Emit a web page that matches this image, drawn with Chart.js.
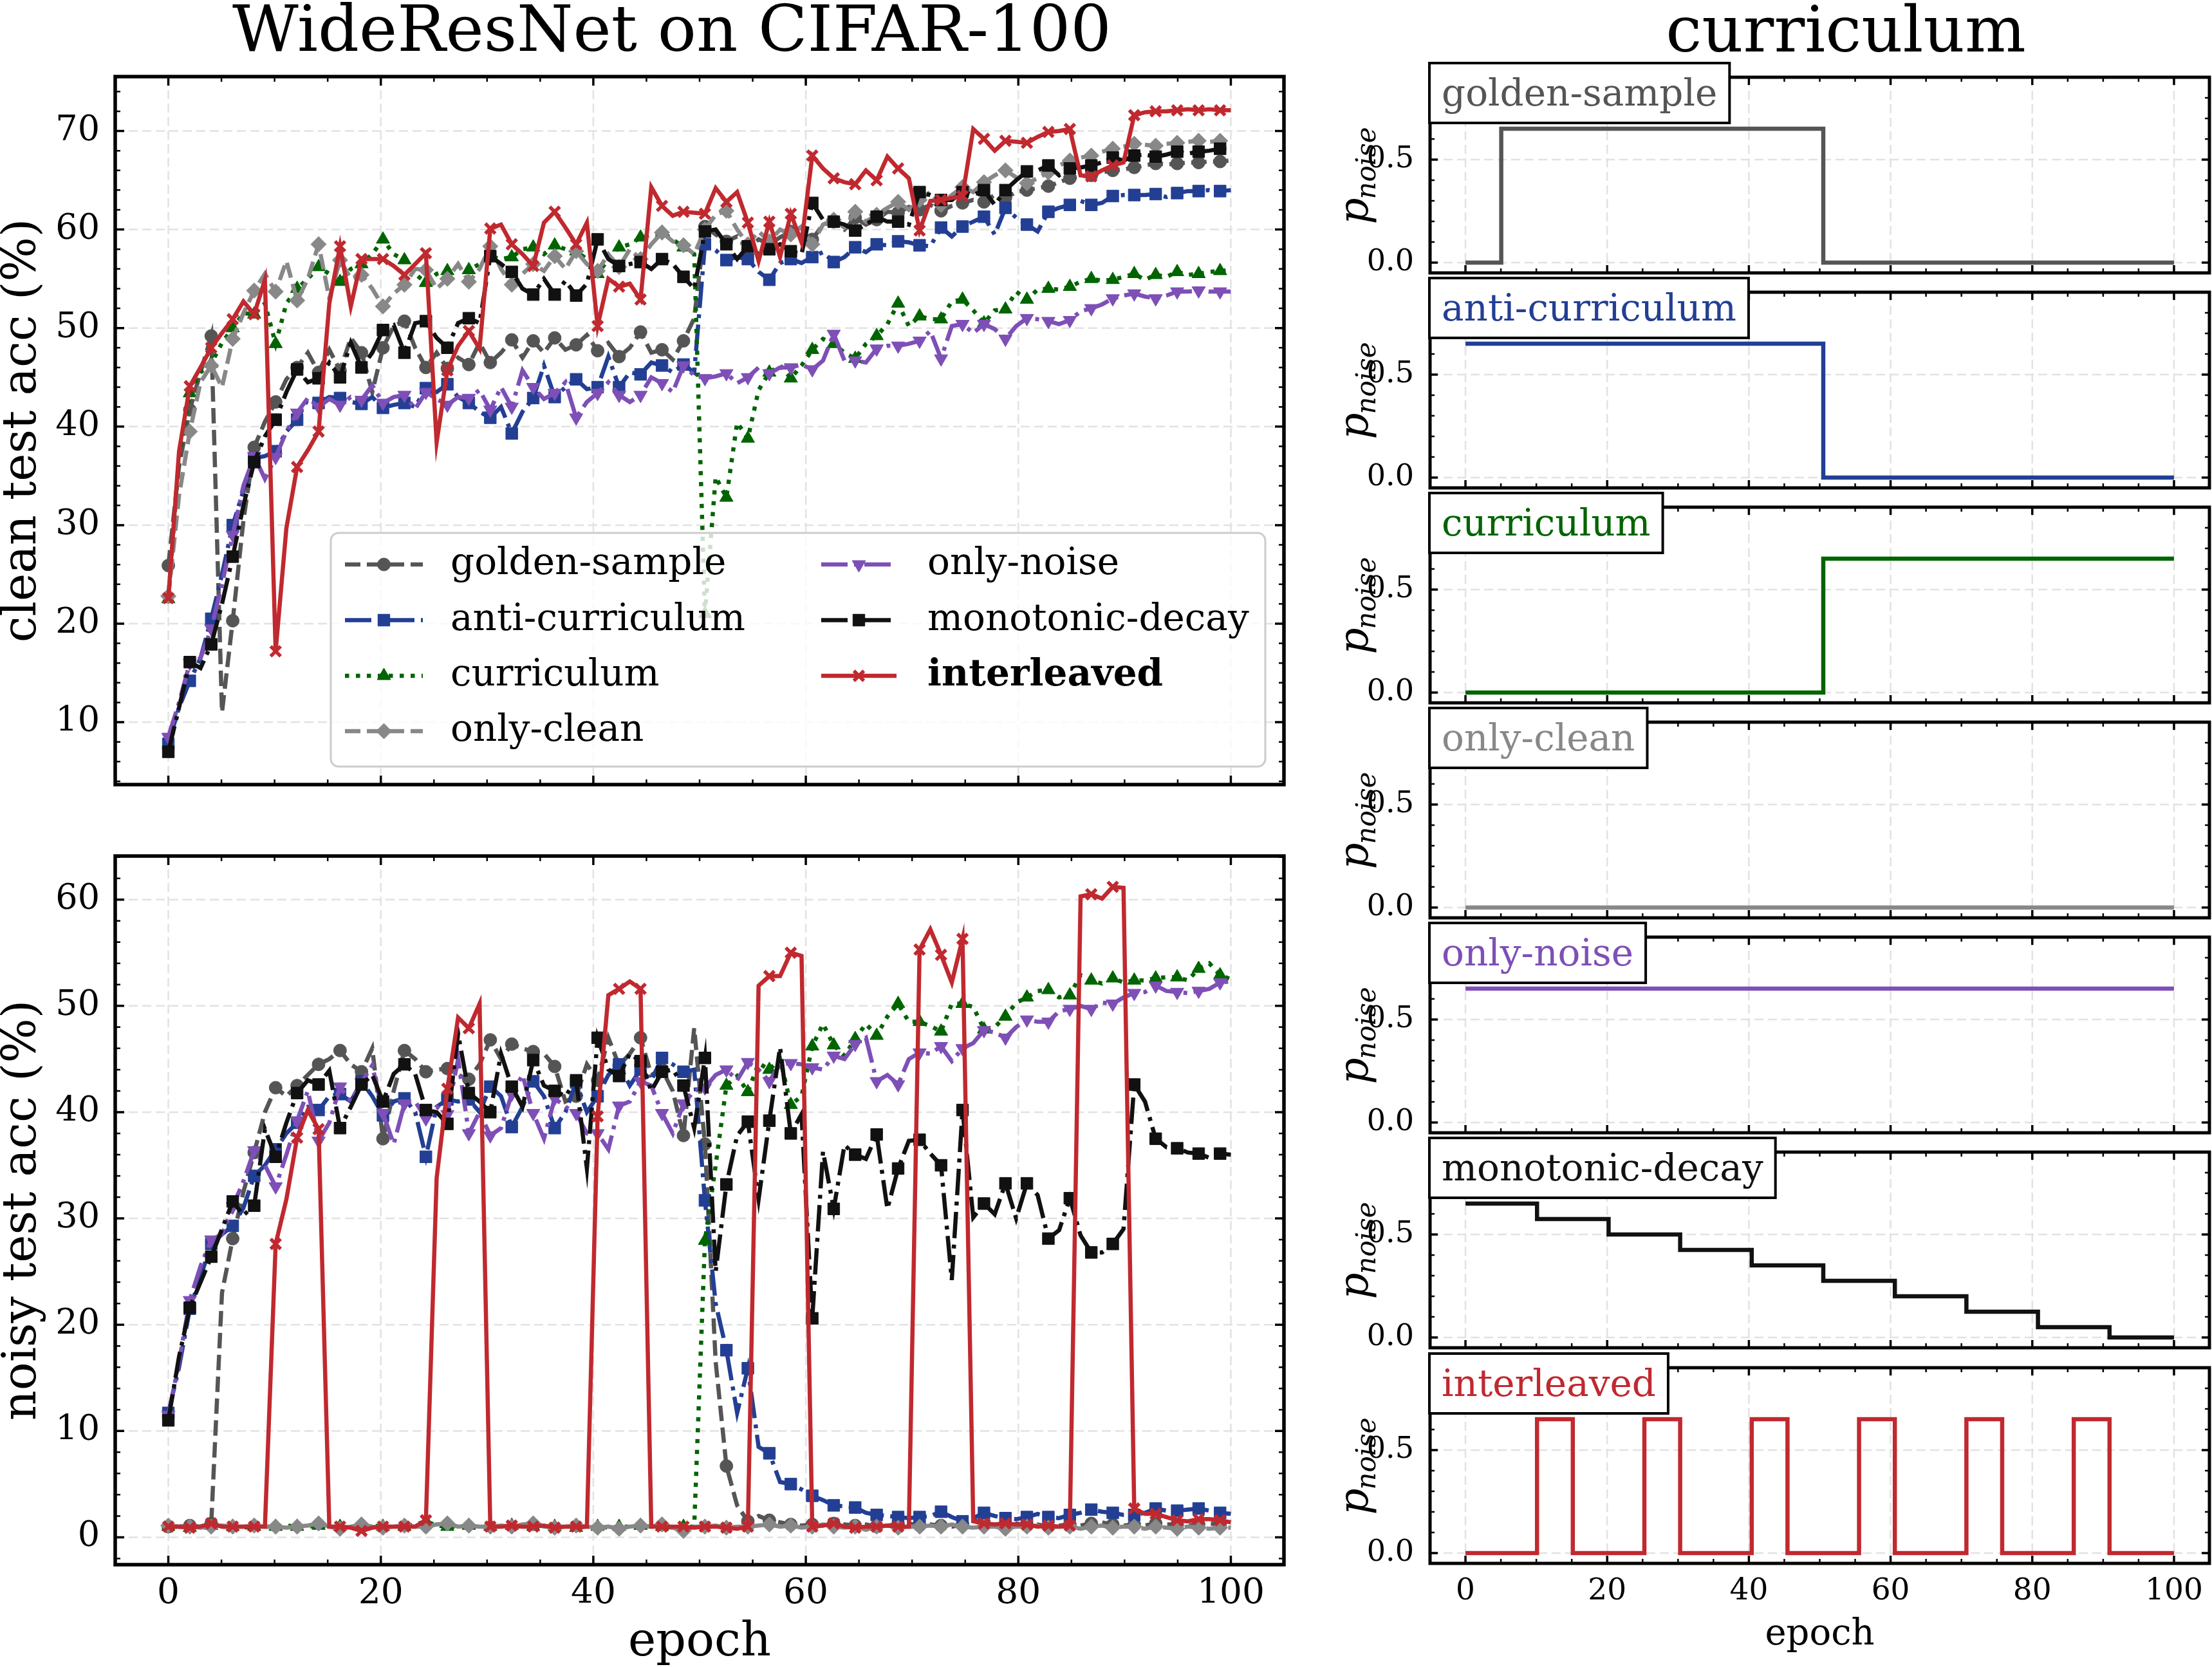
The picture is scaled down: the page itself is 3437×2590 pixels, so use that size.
<!DOCTYPE html>
<html>
<head>
<meta charset="utf-8">
<script src="https://cdn.jsdelivr.net/npm/chart.js@4.4.1/dist/chart.umd.min.js"></script>
<style>
html, body { margin:0; padding:0; background:#ffffff; }
body { width:3437px; height:2590px; position:relative; overflow:hidden; }
canvas { position:absolute; }
.ttl { position:absolute; font-family:'DejaVu Serif', serif; font-size:100px; line-height:100px; color:#000; text-align:center; white-space:nowrap; }
</style>
</head>
<body>
<div class="ttl" style="left:0px;width:2088px;top:-5px;">WideResNet on CIFAR-100</div>
<div class="ttl" style="left:2436px;width:864px;top:-4px;">curriculum</div>
<script>
// ================= DATA =================
// 100 training epochs, plotted on linspace(0, 100, 100)
const epochs = Array.from({length: 100}, (_, i) => i * 100 / 99);

const seriesNames = ['golden-sample', 'anti-curriculum', 'curriculum', 'only-clean', 'only-noise', 'monotonic-decay', 'interleaved'];

// clean test accuracy (%)
const cleanGolden = [25.9,36.0,41.7,45.5,49.2,11.0,20.3,30.5,37.9,40.5,
 42.5,44.8,46.0,47.5,45.5,47.8,45.7,49.0,47.5,43.5,
 48.0,50.2,50.7,48.0,46.0,47.5,45.9,47.0,46.3,48.5,
 46.5,47.5,48.8,47.0,48.7,47.5,49.0,47.8,48.3,49.3,
 47.7,48.5,47.1,48.0,49.6,47.5,47.8,46.8,48.7,51.0,
 60.3,59.5,58.8,59.3,58.0,59.0,58.5,59.2,59.8,60.2,
 59.0,60.5,60.8,60.0,61.2,60.5,61.0,61.8,61.7,62.3,
 62.0,62.5,61.9,62.4,62.7,63.0,62.8,63.5,63.2,63.8,
 64.0,64.2,64.4,64.8,65.2,65.4,65.5,65.8,66.0,66.1,
 66.3,66.5,66.7,66.6,66.7,66.8,66.8,66.9,66.9,67.0];
const cleanAnti = [7.8,11.5,14.2,16.5,20.5,25.0,30.0,33.5,36.8,37.0,
 37.5,39.5,40.7,42.8,42.4,43.0,42.9,42.5,42.3,43.0,
 41.9,42.2,42.4,42.0,43.9,43.5,44.3,43.0,42.4,41.5,
 40.9,42.0,39.3,41.5,42.9,46.2,43.0,44.0,44.8,43.8,
 44.0,47.1,44.0,45.5,45.3,46.5,46.2,45.5,46.3,45.5,
 58.5,57.9,56.9,57.2,57.0,55.7,54.9,56.6,57.0,56.6,
 57.2,57.7,56.7,57.2,58.2,57.7,58.5,58.4,58.8,58.7,
 58.4,58.3,60.2,59.3,60.3,60.8,61.3,59.5,62.2,61.2,
 60.5,59.8,61.8,62.2,62.5,62.9,62.5,62.7,63.4,63.5,
 63.5,63.5,63.6,63.3,63.7,63.9,63.9,64.0,63.9,64.0];
const cleanCurr = [22.5,37.0,43.4,45.5,46.4,48.5,50.0,51.5,51.4,52.5,
 48.4,52.5,54.0,55.0,56.2,55.5,54.7,56.0,56.5,57.5,
 59.0,57.5,56.9,55.5,54.6,55.5,55.8,56.3,55.9,56.5,
 57.3,57.0,57.2,58.0,58.2,57.5,58.4,58.0,57.8,57.0,
 55.5,57.0,58.2,58.5,59.2,59.5,59.7,59.0,58.2,57.5,
 21.0,34.9,32.8,40.4,38.8,43.7,45.5,46.2,44.9,46.2,
 47.8,48.9,48.4,47.5,46.9,48.4,49.2,50.4,52.5,50.2,
 51.2,50.9,50.9,52.7,52.9,51.8,50.5,51.8,51.9,53.7,
 52.9,53.9,54.0,53.9,54.2,54.7,55.0,54.8,54.9,55.2,
 55.5,54.9,55.4,55.2,55.7,55.4,55.5,55.7,55.8,55.9];
const cleanOnlyClean = [22.8,33.0,39.5,44.5,46.2,44.0,48.9,51.5,53.8,55.5,
 53.7,56.8,52.8,55.0,58.5,53.0,56.9,55.0,55.4,54.0,
 52.2,53.5,54.4,56.0,55.9,54.0,55.0,56.5,54.7,56.0,
 58.3,56.0,54.4,55.5,56.5,55.8,57.3,56.0,57.8,56.5,
 55.8,57.5,56.2,58.0,57.0,58.5,59.7,58.8,58.4,57.5,
 60.0,61.5,61.9,60.0,58.5,59.8,58.8,60.0,59.5,60.3,
 58.5,60.5,61.0,60.2,61.8,60.8,61.5,62.2,62.8,62.0,
 63.0,63.8,62.5,63.5,64.3,63.8,64.8,65.5,66.0,65.3,
 64.7,65.2,65.8,66.5,67.0,67.3,67.5,67.9,68.2,68.4,
 68.7,68.6,68.5,68.7,68.8,68.9,69.0,68.9,69.0,68.8];
const cleanOnlyNoise = [8.5,12.0,16.0,16.5,19.5,24.0,29.0,34.0,37.0,34.7,
 36.9,39.5,41.4,42.9,42.0,42.8,42.2,43.0,42.7,44.2,
 42.4,43.0,43.2,41.8,43.5,42.8,42.2,43.0,42.9,43.7,
 41.7,44.0,42.0,45.7,44.0,42.8,43.4,44.5,40.9,42.5,
 43.4,44.5,43.2,42.5,43.2,45.0,44.4,43.5,46.2,45.2,
 44.9,45.1,45.4,44.4,45.0,46.0,45.4,46.0,46.0,46.3,
 45.8,46.7,49.4,46.7,46.7,46.5,47.9,48.2,48.2,48.4,
 48.7,49.7,46.9,50.2,50.4,49.5,50.4,49.9,48.9,50.2,
 51.0,50.9,50.7,50.4,50.8,51.7,52.0,52.4,53.0,53.3,
 53.5,53.2,53.0,53.3,53.7,53.7,53.8,53.7,53.7,53.7];
const cleanMono = [7.0,11.5,16.1,15.5,17.9,22.0,26.8,32.0,36.4,39.0,
 40.7,43.5,45.8,44.5,44.9,46.5,45.0,48.5,46.0,47.5,
 49.8,50.3,47.5,50.5,50.7,49.0,48.0,50.5,51.0,50.5,
 57.3,56.5,55.7,54.0,53.4,55.0,53.4,54.8,53.3,54.5,
 59.0,57.0,56.3,56.5,56.7,56.0,57.0,56.5,55.2,54.0,
 59.8,60.0,58.5,57.0,58.3,57.5,58.0,58.5,57.8,57.5,
 62.7,61.0,60.8,60.5,59.9,60.5,61.3,60.8,60.8,60.5,
 63.8,63.5,63.0,63.0,63.8,63.5,64.0,62.5,64.0,65.0,
 65.9,66.0,66.5,65.5,66.2,66.3,66.5,66.8,67.3,67.0,
 67.5,67.6,67.4,67.6,67.9,67.7,67.9,68.0,68.2,68.1];
const cleanInter = [22.6,37.5,44.1,46.0,48.0,49.5,50.9,52.7,51.4,54.9,
 17.2,29.7,35.9,37.6,39.5,52.5,58.3,52.2,57.0,57.0,
 57.0,56.3,55.4,56.5,57.6,38.4,45.7,48.2,49.7,47.9,
 60.1,60.5,58.5,57.5,56.3,60.7,61.8,60.2,58.5,60.7,
 50.2,55.0,54.2,54.5,52.9,64.3,62.4,61.4,61.8,61.7,
 61.6,64.2,62.8,63.8,60.7,56.8,60.8,57.2,61.6,58.7,
 67.5,66.2,65.2,64.8,64.6,66.0,65.0,67.4,66.2,65.2,
 59.9,62.9,63.0,63.2,63.4,70.2,69.2,68.0,69.0,68.9,
 68.8,69.4,69.9,70.0,70.2,65.5,65.4,66.0,66.5,66.8,
 71.6,71.9,72.0,72.0,72.1,72.2,72.1,72.2,72.1,72.1];

// noisy test accuracy (%)
const noisyGolden = [1.0,1.0,1.1,1.0,1.3,23.0,28.1,32.5,36.2,40.0,
 42.3,41.5,42.5,43.5,44.5,45.0,45.8,44.5,43.8,46.0,
 37.5,42.0,45.8,45.0,43.8,44.0,44.1,43.5,43.1,44.5,
 46.8,45.0,46.4,46.0,45.7,45.5,44.3,41.0,41.5,44.5,
 43.0,47.0,44.4,45.5,47.0,43.5,44.0,42.0,37.8,47.9,
 37.0,16.5,6.7,3.0,1.5,2.0,1.6,1.4,1.2,1.1,
 1.2,1.1,1.3,1.2,1.1,1.2,1.0,1.1,1.2,1.3,
 1.1,1.2,1.1,1.0,1.2,1.6,1.4,1.1,1.2,1.3,
 1.1,1.2,1.0,1.1,1.2,1.1,1.3,1.4,1.2,1.1,
 1.2,1.1,1.3,1.2,1.2,1.1,1.2,1.3,1.2,1.2];
const noisyAnti = [11.7,16.0,21.5,24.5,27.6,28.5,29.3,31.0,34.0,35.0,
 36.5,38.0,39.0,40.5,40.2,41.5,41.7,41.0,42.9,41.5,
 39.7,41.0,41.3,40.0,35.8,40.5,41.2,41.0,41.2,40.0,
 42.4,41.5,38.6,40.5,42.9,41.5,38.5,40.0,42.8,40.0,
 41.5,43.5,44.5,42.5,44.0,43.0,45.1,44.5,43.8,44.0,
 31.7,22.0,17.6,11.7,15.9,8.5,7.9,5.2,5.0,4.5,
 3.9,3.5,3.0,2.9,2.8,2.3,2.1,2.0,1.9,1.8,
 1.9,2.0,2.4,1.9,1.5,1.8,2.3,2.0,1.8,1.7,
 1.9,2.2,1.9,1.8,2.1,2.3,2.6,2.4,2.3,2.1,
 2.1,2.3,2.7,2.5,2.5,2.6,2.7,2.5,2.3,2.2];
const noisyCurr = [1.0,1.0,0.9,1.0,1.1,1.0,1.0,0.9,1.0,1.0,
 1.0,1.1,1.0,1.0,1.1,1.0,1.0,0.9,1.0,1.1,
 1.0,1.0,1.0,1.2,1.5,1.1,1.0,1.0,1.1,1.0,
 1.0,1.0,1.1,1.0,1.0,1.2,1.0,1.0,0.9,1.0,
 1.0,0.9,1.0,1.0,1.1,1.0,1.0,0.9,1.0,1.0,
 27.9,35.0,42.5,43.4,41.9,44.6,44.0,45.0,40.7,41.5,
 46.2,48.3,46.3,45.3,46.9,48.3,47.2,49.0,50.2,48.5,
 48.5,48.1,47.6,50.2,50.2,49.9,47.8,48.0,49.0,50.3,
 50.8,51.4,51.5,50.8,51.0,52.9,52.4,52.1,52.6,52.2,
 52.4,52.4,52.6,52.7,52.7,52.4,53.5,54.0,52.9,52.5];
const noisyOnlyClean = [1.1,1.0,1.0,0.9,1.0,1.1,1.0,1.0,1.1,1.0,
 1.0,0.9,1.0,1.1,1.3,1.0,0.8,1.0,1.2,1.0,
 0.9,1.0,1.1,1.0,1.0,1.2,1.3,1.0,1.1,1.0,
 1.0,1.1,1.0,1.2,1.3,1.0,0.9,1.0,1.1,1.0,
 0.9,1.0,0.8,1.0,1.1,1.0,1.2,0.9,0.6,1.0,
 1.0,1.1,0.9,1.0,1.0,1.1,1.2,1.0,1.1,0.9,
 1.0,1.2,1.0,0.9,1.0,0.7,1.0,1.1,0.9,1.0,
 1.0,1.1,1.0,1.2,1.0,0.9,1.0,1.0,0.8,1.0,
 1.0,1.1,0.9,1.0,1.0,0.8,1.0,1.1,0.9,1.0,
 1.0,0.8,1.0,0.9,0.8,1.0,0.9,0.8,0.9,0.9];
const noisyOnlyNoise = [11.5,16.5,22.3,25.5,28.0,28.5,31.1,33.5,36.4,35.0,
 33.0,36.0,39.2,42.0,37.3,39.0,42.4,41.0,42.8,44.4,
 39.9,37.0,40.8,41.0,39.4,40.5,39.8,45.0,38.0,40.0,
 37.8,38.5,41.7,43.5,39.9,37.5,41.3,40.5,39.9,38.0,
 38.0,36.5,40.6,41.0,42.9,42.5,39.9,38.0,40.8,42.0,
 42.3,43.5,44.0,43.0,44.7,44.0,42.9,44.5,44.6,44.5,
 44.2,44.0,45.3,45.0,46.4,47.0,42.9,43.5,42.6,45.0,
 45.6,45.5,46.2,44.8,46.0,46.5,47.7,47.5,47.0,48.0,
 48.7,48.5,48.5,49.5,49.7,50.0,49.7,50.3,50.2,50.8,
 51.2,51.3,51.9,51.4,51.3,51.2,51.4,51.6,52.2,52.3];
const noisyMono = [11.0,17.0,21.6,24.0,26.4,29.0,31.6,30.3,31.2,38.4,
 35.8,39.0,41.8,43.0,42.6,43.9,38.5,40.5,42.6,43.5,
 41.0,43.6,44.5,43.6,40.2,40.0,38.9,47.4,41.8,41.0,
 40.0,45.5,42.4,40.5,44.9,42.5,42.0,41.5,43.0,34.7,
 47.0,44.0,43.4,45.5,44.8,42.0,43.8,44.0,42.5,38.5,
 45.1,25.0,33.2,37.8,39.1,31.8,39.2,46.1,38.0,39.8,
 20.6,36.3,30.9,36.9,36.0,35.6,37.9,30.9,34.7,37.3,
 37.4,36.1,35.0,24.2,40.2,30.1,31.4,30.4,33.3,30.0,
 33.3,32.2,28.1,28.9,31.9,28.4,26.8,26.8,27.6,29.0,
 42.6,41.0,37.5,36.7,36.6,36.2,36.1,35.7,36.1,36.0];
const noisyInter = [1.0,1.0,0.9,1.0,1.3,1.0,1.0,1.0,1.0,1.0,
 27.6,31.8,37.6,40.2,38.4,1.0,1.0,0.9,0.6,0.9,
 1.0,1.0,1.0,1.0,1.6,33.8,42.2,48.9,47.9,50.2,
 1.0,1.0,1.1,1.0,1.0,1.1,0.9,1.0,1.0,1.0,
 39.6,51.0,51.6,52.3,51.6,1.0,1.0,1.0,1.0,0.9,
 1.0,1.0,0.9,0.8,1.0,51.9,52.8,52.8,55.0,54.7,
 1.0,1.1,1.3,1.0,0.9,1.0,1.0,1.1,1.0,1.0,
 55.3,57.2,54.8,52.2,56.3,1.5,1.3,1.2,1.3,1.2,
 1.2,1.0,1.1,1.0,1.1,60.3,60.5,60.1,61.2,61.1,
 2.7,2.2,2.2,1.9,1.6,1.5,1.7,1.7,1.6,1.4];

// noise-probability schedules (step breakpoints: epoch, p_noise)
const schedGoldenX = [0, 5.05, 50.5, 100];          const schedGoldenY = [0, 0.65, 0, 0];
const schedAntiX   = [0, 50.5, 100];                const schedAntiY   = [0.65, 0, 0];
const schedCurrX   = [0, 50.5, 100];                const schedCurrY   = [0, 0.65, 0.65];
const schedCleanX  = [0, 100];                      const schedCleanY  = [0, 0];
const schedNoiseX  = [0, 100];                      const schedNoiseY  = [0.65, 0.65];
const schedMonoX   = [0, 10.1, 20.2, 30.3, 40.4, 50.5, 60.6, 70.7, 80.8, 90.9, 100];
const schedMonoY   = [0.65, 0.575, 0.5, 0.425, 0.35, 0.275, 0.2, 0.125, 0.05, 0, 0];
const schedInterX  = [0, 10.1, 15.15, 25.25, 30.3, 40.4, 45.45, 55.55, 60.6, 70.7, 75.75, 85.85, 90.9, 100];
const schedInterY  = [0, 0.65, 0, 0.65, 0, 0.65, 0, 0.65, 0, 0.65, 0, 0.65, 0, 0];

// tick labels
const epochTicks = [0, 20, 40, 60, 80, 100];
const cleanTicks = [10, 20, 30, 40, 50, 60, 70];
const noisyTicks = [0, 10, 20, 30, 40, 50, 60];
const pTicks = [0, 0.5];

// ================= STYLE =================
const FONT = "'DejaVu Serif'";
const LW = 6.5;
const styles = {
  'golden-sample':   {color:'#555555', dash:[24,10],        point:'circle',   r:10, rot:0,   pbw:1},
  'anti-curriculum': {color:'#233f94', dash:[41,10,6,10],   point:'rect',     r:13, rot:0,   pbw:1},
  'curriculum':      {color:'#006400', dash:[6.5,10.5],     point:'triangle', r:12, rot:0,   pbw:1},
  'only-clean':      {color:'#888888', dash:[24,10],        point:'rectRot',  r:12, rot:0,   pbw:1},
  'only-noise':      {color:'#7e4fb6', dash:[41,10,6,10],   point:'triangle', r:12, rot:180, pbw:1},
  'monotonic-decay': {color:'#111111', dash:[41,10,6,10],   point:'rect',     r:13, rot:0,   pbw:1},
  'interleaved':     {color:'#c0292f', dash:[],             point:'crossRot', r:11, rot:0,   pbw:5.5}
};

function between(a, b, step, skip) {
  const out = [];
  for (let v = a; v <= b + 1e-9; v += step) {
    const r = Math.round(v * 1000) / 1000;
    if (!skip.some(s => Math.abs(s - r) < 1e-6)) out.push(r);
  }
  return out;
}

// ================= PLUGINS =================
const framePlugin = {
  id: 'frame',
  beforeDatasetsDraw(chart, args, o) {
    if (!o || !o.xMajor) return;
    const {ctx, chartArea: a} = chart; const xs = chart.scales.x, ys = chart.scales.y;
    ctx.save();
    ctx.strokeStyle = '#e2e2e2'; ctx.lineWidth = 2.5; ctx.setLineDash([14, 7]);
    ctx.beginPath();
    for (const v of o.xMajor) { const p = xs.getPixelForValue(v); ctx.moveTo(p, a.top); ctx.lineTo(p, a.bottom); }
    for (const v of o.yMajor) { const p = ys.getPixelForValue(v); ctx.moveTo(a.left, p); ctx.lineTo(a.right, p); }
    ctx.stroke();
    ctx.restore();
  },
  afterDraw(chart, args, o) {
    if (!o || !o.xMajor) return;
    const {ctx, chartArea: a} = chart; const xs = chart.scales.x, ys = chart.scales.y;
    ctx.save(); ctx.setLineDash([]); ctx.strokeStyle = '#000'; ctx.lineCap = 'butt';
    const draw = (xl, yl, len, w) => {
      ctx.lineWidth = w; ctx.beginPath();
      for (const v of xl) { const p = xs.getPixelForValue(v); ctx.moveTo(p, a.bottom); ctx.lineTo(p, a.bottom - len); ctx.moveTo(p, a.top); ctx.lineTo(p, a.top + len); }
      for (const v of yl) { const p = ys.getPixelForValue(v); ctx.moveTo(a.left, p); ctx.lineTo(a.left + len, p); ctx.moveTo(a.right, p); ctx.lineTo(a.right - len, p); }
      ctx.stroke();
    };
    draw(o.xMajor, o.yMajor, o.majorLen, 3.5);
    draw(o.xMinor, o.yMinor, o.minorLen, 2.5);
    ctx.lineWidth = o.spineW;
    ctx.strokeRect(a.left, a.top, a.right - a.left, a.bottom - a.top);
    ctx.restore();
  }
};

const legendPlugin = {
  id: 'mplLegend',
  afterDatasetsDraw(chart, args, o) {
    if (!o || !o.items) return;
    const ctx = chart.ctx;
    ctx.save();
    const {x, y, w, h, r} = o.box;
    ctx.beginPath();
    ctx.moveTo(x + r, y); ctx.lineTo(x + w - r, y); ctx.arcTo(x + w, y, x + w, y + r, r);
    ctx.lineTo(x + w, y + h - r); ctx.arcTo(x + w, y + h, x + w - r, y + h, r);
    ctx.lineTo(x + r, y + h); ctx.arcTo(x, y + h, x, y + h - r, r);
    ctx.lineTo(x, y + r); ctx.arcTo(x, y, x + r, y, r); ctx.closePath();
    ctx.fillStyle = 'rgba(255,255,255,0.8)'; ctx.fill();
    ctx.strokeStyle = '#cccccc'; ctx.lineWidth = 3; ctx.setLineDash([]); ctx.stroke();
    for (const it of o.items) {
      const s = styles[it.name];
      ctx.strokeStyle = s.color; ctx.lineWidth = LW; ctx.setLineDash(s.dash); ctx.lineCap = 'butt';
      ctx.beginPath(); ctx.moveTo(it.hx0, it.y); ctx.lineTo(it.hx1, it.y); ctx.stroke();
      ctx.setLineDash([]);
      ctx.fillStyle = s.color; ctx.strokeStyle = s.color; ctx.lineWidth = s.pbw;
      Chart.helpers.drawPoint(ctx, {pointStyle: s.point, radius: s.r, rotation: s.rot, borderWidth: s.pbw}, (it.hx0 + it.hx1) / 2, it.y);
      ctx.fillStyle = '#000';
      ctx.font = (it.bold ? 'bold ' : '') + '58px ' + FONT;
      ctx.textBaseline = 'middle'; ctx.textAlign = 'left';
      ctx.fillText(it.name, it.tx, it.y);
    }
    ctx.restore();
  }
};

const tagPlugin = {
  id: 'tag',
  afterDraw(chart, args, o) {
    if (!o || !o.text) return;
    const {ctx, chartArea: a} = chart;
    ctx.save();
    ctx.font = '58px ' + FONT;
    const tw = ctx.measureText(o.text).width;
    const bx = a.left - 1, by = a.top - 22, bw = tw + 38, bh = 93;
    ctx.fillStyle = '#fff'; ctx.fillRect(bx, by, bw, bh);
    ctx.strokeStyle = '#000'; ctx.lineWidth = 4; ctx.setLineDash([]);
    ctx.strokeRect(bx, by, bw, bh);
    ctx.fillStyle = o.color; ctx.textBaseline = 'alphabetic'; ctx.textAlign = 'left';
    ctx.fillText(o.text, a.left + 18, a.top + 44);
    ctx.restore();
  }
};

const pnoisePlugin = {
  id: 'pnoise',
  afterDraw(chart, args, o) {
    if (!o || !o.x) return;
    const {ctx, chartArea: a} = chart;
    ctx.save();
    const cy = (a.top + a.bottom) / 2;
    ctx.translate(o.x, cy); ctx.rotate(-Math.PI / 2);
    ctx.font = 'italic 64px ' + FONT; const wp = ctx.measureText('p').width;
    ctx.font = 'italic 42px ' + FONT; const wn = ctx.measureText('noise').width;
    const x0 = -(wp + wn) / 2;
    ctx.fillStyle = '#000'; ctx.textBaseline = 'alphabetic'; ctx.textAlign = 'left';
    ctx.font = 'italic 64px ' + FONT; ctx.fillText('p', x0, 0);
    ctx.font = 'italic 42px ' + FONT; ctx.fillText('noise', x0 + wp - 2, 12);
    ctx.restore();
  }
};

// ================= HELPERS =================
function addCanvas(left, top, width, height) {
  const c = document.createElement('canvas');
  c.width = width; c.height = height;
  c.style.left = left + 'px'; c.style.top = top + 'px';
  c.style.width = width + 'px'; c.style.height = height + 'px';
  document.body.appendChild(c);
  return c;
}

// move chart area exactly onto the wanted box (canvas coordinates)
function pin(chart, want) {
  for (let it = 0; it < 6; it++) {
    const a = chart.chartArea;
    const p = chart.config.options.layout.padding;
    const d = {left: want.left - a.left, top: want.top - a.top, right: a.right - want.right, bottom: a.bottom - want.bottom};
    if (Math.abs(d.left) < 0.25 && Math.abs(d.top) < 0.25 && Math.abs(d.right) < 0.25 && Math.abs(d.bottom) < 0.25) break;
    p.left += d.left; p.top += d.top; p.right += d.right; p.bottom += d.bottom;
    chart.update('none');
  }
}

function mkDataset(name, vals, idx) {
  const s = styles[name];
  return {
    label: name,
    data: vals.map((v, i) => ({x: epochs[i], y: v})),
    borderColor: s.color, backgroundColor: s.color,
    borderWidth: LW, borderDash: s.dash, borderCapStyle: 'butt',
    pointStyle: s.point, pointRotation: s.rot,
    pointRadius: ctx => (ctx.dataIndex % 2 === 0 ? s.r : 0),
    pointBorderWidth: s.pbw, pointBorderColor: s.color, pointBackgroundColor: s.color,
    tension: 0, order: 10 - idx
  };
}

function axisCfg(o) {
  return {
    type: 'linear', min: o.min, max: o.max,
    grid: {display: false}, border: {display: false},
    ticks: {display: o.showTicks, font: {family: FONT, size: o.tickSize}, color: '#000', padding: o.pad,
            maxRotation: 0, autoSkip: false, callback: o.fmt || (v => String(v))},
    afterBuildTicks: s => { s.ticks = o.ticks.map(v => ({value: v})); },
    afterFit: s => {
      if (o.width !== undefined) s.width = o.width;
      if (o.height !== undefined) s.height = o.height;
      s.paddingTop = 0; s.paddingBottom = 0; s.paddingLeft = 0; s.paddingRight = 0;
    },
    title: o.title ? {display: true, text: o.title, font: {family: FONT, size: o.titleSize, lineHeight: 1.0}, color: '#000',
                      padding: o.titlePad || 0} : {display: false}
  };
}

// ================= LEFT PANELS =================
const cleanSeries = [cleanGolden, cleanAnti, cleanCurr, cleanOnlyClean, cleanOnlyNoise, cleanMono, cleanInter];
const noisySeries = [noisyGolden, noisyAnti, noisyCurr, noisyOnlyClean, noisyOnlyNoise, noisyMono, noisyInter];

const xMinorLeft = between(5, 100, 5, epochTicks);

// top-left: clean test acc
const chartClean = new Chart(addCanvas(0, 90, 2040, 1160), {
  type: 'line',
  data: {datasets: seriesNames.map((n, i) => mkDataset(n, cleanSeries[i], i))},
  options: {
    responsive: false, animation: false, devicePixelRatio: 1, events: [],
    layout: {padding: {left: 0, right: 45, top: 29, bottom: 31}, autoPadding: false},
    plugins: {
      legend: {display: false}, tooltip: {enabled: false},
      frame: {xMajor: epochTicks, xMinor: xMinorLeft, yMajor: cleanTicks, yMinor: between(4, 74, 2, cleanTicks),
              majorLen: 14, minorLen: 8, spineW: 5.5},
      mplLegend: {
        box: {x: 514, y: 738, w: 1452, h: 363, r: 12},
        items: [
          {name: 'golden-sample',   hx0: 536,  hx1: 657,  tx: 700,  y: 787},
          {name: 'anti-curriculum', hx0: 536,  hx1: 657,  tx: 700,  y: 873.5},
          {name: 'curriculum',      hx0: 536,  hx1: 657,  tx: 700,  y: 960},
          {name: 'only-clean',      hx0: 536,  hx1: 657,  tx: 700,  y: 1046},
          {name: 'only-noise',      hx0: 1276, hx1: 1393, tx: 1441, y: 787},
          {name: 'monotonic-decay', hx0: 1276, hx1: 1393, tx: 1441, y: 873.5},
          {name: 'interleaved',     hx0: 1276, hx1: 1393, tx: 1441, y: 960, bold: true}
        ]
      }
    },
    scales: {
      x: axisCfg({min: -5, max: 105, ticks: epochTicks, showTicks: false, tickSize: 54, pad: 5, height: 0}),
      y: axisCfg({min: 3.67, max: 75.52, ticks: cleanTicks, showTicks: true, tickSize: 54, pad: 16, width: 179,
                  title: 'clean test acc (%)', titleSize: 73})
    }
  },
  plugins: [framePlugin, legendPlugin]
});
pin(chartClean, {left: 179, top: 29, right: 1995, bottom: 1129});

// bottom-left: noisy test acc
const chartNoisy = new Chart(addCanvas(0, 1290, 2040, 1300), {
  type: 'line',
  data: {datasets: seriesNames.map((n, i) => mkDataset(n, noisySeries[i], i))},
  options: {
    responsive: false, animation: false, devicePixelRatio: 1, events: [],
    layout: {padding: {left: 0, right: 45, top: 40, bottom: 0}, autoPadding: false},
    plugins: {
      legend: {display: false}, tooltip: {enabled: false},
      frame: {xMajor: epochTicks, xMinor: xMinorLeft, yMajor: noisyTicks, yMinor: between(-2, 64, 2, noisyTicks),
              majorLen: 14, minorLen: 8, spineW: 5.5}
    },
    scales: {
      x: axisCfg({min: -5, max: 105, ticks: epochTicks, showTicks: true, tickSize: 55, pad: 5, height: 159,
                  title: 'epoch', titleSize: 73, titlePad: {top: 0, bottom: 0}}),
      y: axisCfg({min: -2.58, max: 64.1, ticks: noisyTicks, showTicks: true, tickSize: 54, pad: 16, width: 179,
                  title: 'noisy test acc (%)', titleSize: 73})
    }
  },
  plugins: [framePlugin]
});
pin(chartNoisy, {left: 179, top: 40, right: 1995, bottom: 1141});

// ================= RIGHT PANELS =================
const schedules = [
  [schedGoldenX, schedGoldenY], [schedAntiX, schedAntiY], [schedCurrX, schedCurrY],
  [schedCleanX, schedCleanY], [schedNoiseX, schedNoiseY], [schedMonoX, schedMonoY], [schedInterX, schedInterY]
];
const panelTops = [120, 454, 788, 1122, 1456, 1790, 2125];
const PH = 304;
const xMinorRight = between(5, 100, 5, epochTicks);
const yMinorRight = [0.1, 0.2, 0.3, 0.4, 0.6, 0.7, 0.8];

seriesNames.forEach((name, k) => {
  const last = k === seriesNames.length - 1;
  const top = panelTops[k];
  const cTop = top - 40;
  const cH = last ? 2590 - cTop : PH + 40 + 12;
  const [sx, sy] = schedules[k];
  const ch = new Chart(addCanvas(2040, cTop, 1397, cH), {
    type: 'line',
    data: {datasets: [{
      label: name,
      data: sx.map((x, i) => ({x: x, y: sy[i]})),
      borderColor: styles[name].color, borderWidth: 6.5, pointRadius: 0, stepped: 'before', tension: 0
    }]},
    options: {
      responsive: false, animation: false, devicePixelRatio: 1, events: [],
      layout: {padding: {left: 0, right: 4, top: 40, bottom: last ? 0 : 12}, autoPadding: false},
      plugins: {
        legend: {display: false}, tooltip: {enabled: false},
        frame: {xMajor: epochTicks, xMinor: xMinorRight, yMajor: pTicks, yMinor: yMinorRight,
                majorLen: 12, minorLen: 7, spineW: 5},
        tag: {text: name, color: styles[name].color},
        pnoise: {x: 85}
      },
      scales: {
        x: axisCfg({min: -5, max: 105, ticks: epochTicks, showTicks: last, tickSize: 47, pad: 8,
                    height: last ? 2590 - (top + PH) : 0,
                    title: last ? 'epoch' : null, titleSize: 56, titlePad: {top: 0, bottom: 22}}),
        y: axisCfg({min: -0.05, max: 0.9, ticks: pTicks, showTicks: true, tickSize: 46, pad: 17, width: 182,
                    fmt: v => v.toFixed(1)})
      }
    },
    plugins: [framePlugin, tagPlugin, pnoisePlugin]
  });
  pin(ch, {left: 182, top: 40, right: 1393, bottom: 40 + PH});
});
</script>
</body>
</html>
